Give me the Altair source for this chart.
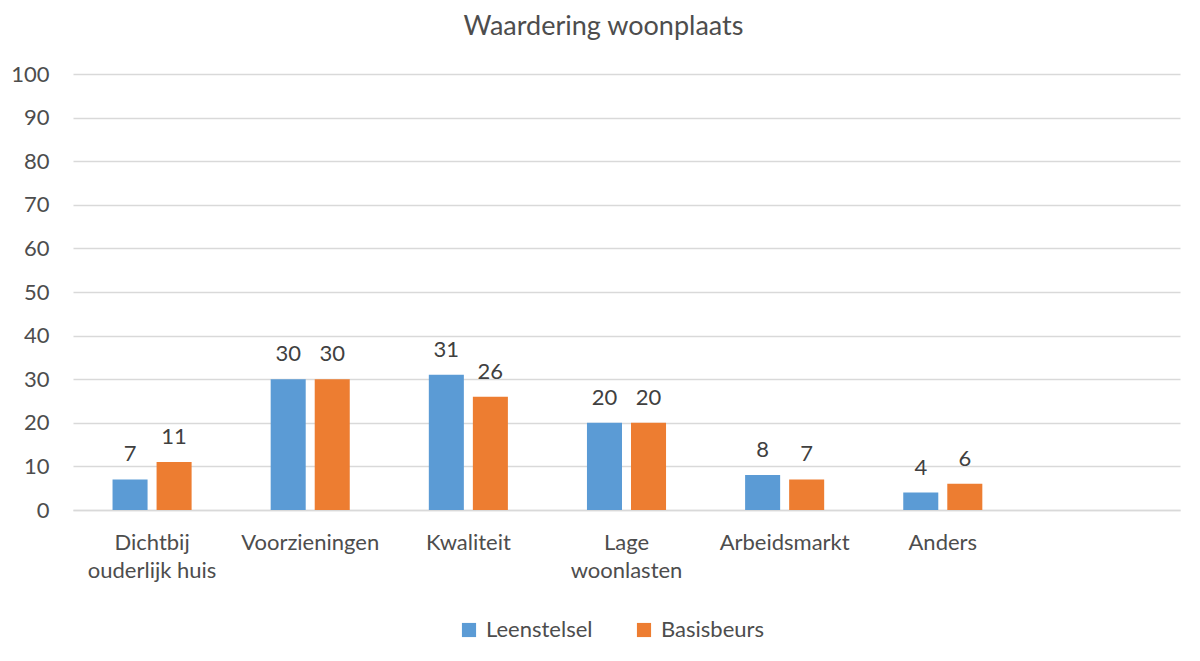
import altair as alt
import pandas as pd

categories = ["Dichtbij ouderlijk huis", "Voorzieningen", "Kwaliteit",
              "Lage woonlasten", "Arbeidsmarkt", "Anders"]
series = ["Leenstelsel", "Basisbeurs"]
leenstelsel = [7, 30, 31, 20, 8, 4]
basisbeurs = [11, 30, 26, 20, 7, 6]
colors = ["#5B9BD5", "#ED7D31"]
y_ticks = list(range(0, 101, 10))

rows = []
for c, a, b in zip(categories, leenstelsel, basisbeurs):
    rows.append({"cat": c, "serie": series[0], "val": a})
    rows.append({"cat": c, "serie": series[1], "val": b})
df = pd.DataFrame(rows)

domain = categories + [" "]
FONT = "Lato"
TXT = "#4d4d4d"
FS = 22

label_expr = ("datum.label == 'Dichtbij ouderlijk huis' ? ['Dichtbij', 'ouderlijk huis'] : "
              "datum.label == 'Lage woonlasten' ? ['Lage', 'woonlasten'] : datum.label")

x = alt.X("cat:N", scale=alt.Scale(domain=domain, paddingInner=0.5, paddingOuter=0.25),
          sort=domain,
          axis=alt.Axis(title=None, labelAngle=0, labelExpr=label_expr, labelFontSize=FS,
                        labelFont=FONT, labelColor=TXT, labelPadding=22, labelLineHeight=28,
                        ticks=False, domainColor="#d9d9d9", domainWidth=1.5, labelBaseline="top"))
y = alt.Y("val:Q", scale=alt.Scale(domain=[0, 100], nice=False),
          axis=alt.Axis(title=None, values=y_ticks, labelFontSize=FS, labelFont=FONT,
                        labelColor=TXT, labelPadding=24, ticks=False, domain=False,
                        gridColor="#d9d9d9", gridWidth=1.5))
xo = alt.XOffset("serie:N", sort=series, scale=alt.Scale(domain=series, paddingInner=0.2045))
color = alt.Color("serie:N", sort=series, scale=alt.Scale(domain=series, range=colors),
                  legend=alt.Legend(title=None, orient="none", direction="horizontal",
                                    legendX=385, legendY=545, symbolType="square",
                                    symbolSize=200, symbolStrokeWidth=0, labelFontSize=FS,
                                    labelFont=FONT, labelColor=TXT, columnPadding=40,
                                    labelOffset=6, symbolOpacity=1))

base = alt.Chart(df)
bars = base.mark_bar().encode(x=x, y=y, xOffset=xo, color=color)
texts = base.mark_text(baseline="bottom", dy=-13, fontSize=FS, font=FONT, color="#404040").encode(
    x=x, y=y, xOffset=xo, text="val:Q")

chart = (bars + texts).properties(
    width=1107, height=436,
    title=alt.TitleParams("Waardering woonplaats", fontSize=27, font=FONT, color=TXT,
                          fontWeight="normal", anchor="middle", dx=-23, offset=22),
    autosize=alt.AutoSizeParams(type="none"),
    padding={"left": 65, "top": 66, "right": 12, "bottom": 140},
).configure_view(stroke=None)

chart.save("out.html", embed_options={"renderer": "svg", "actions": False})
